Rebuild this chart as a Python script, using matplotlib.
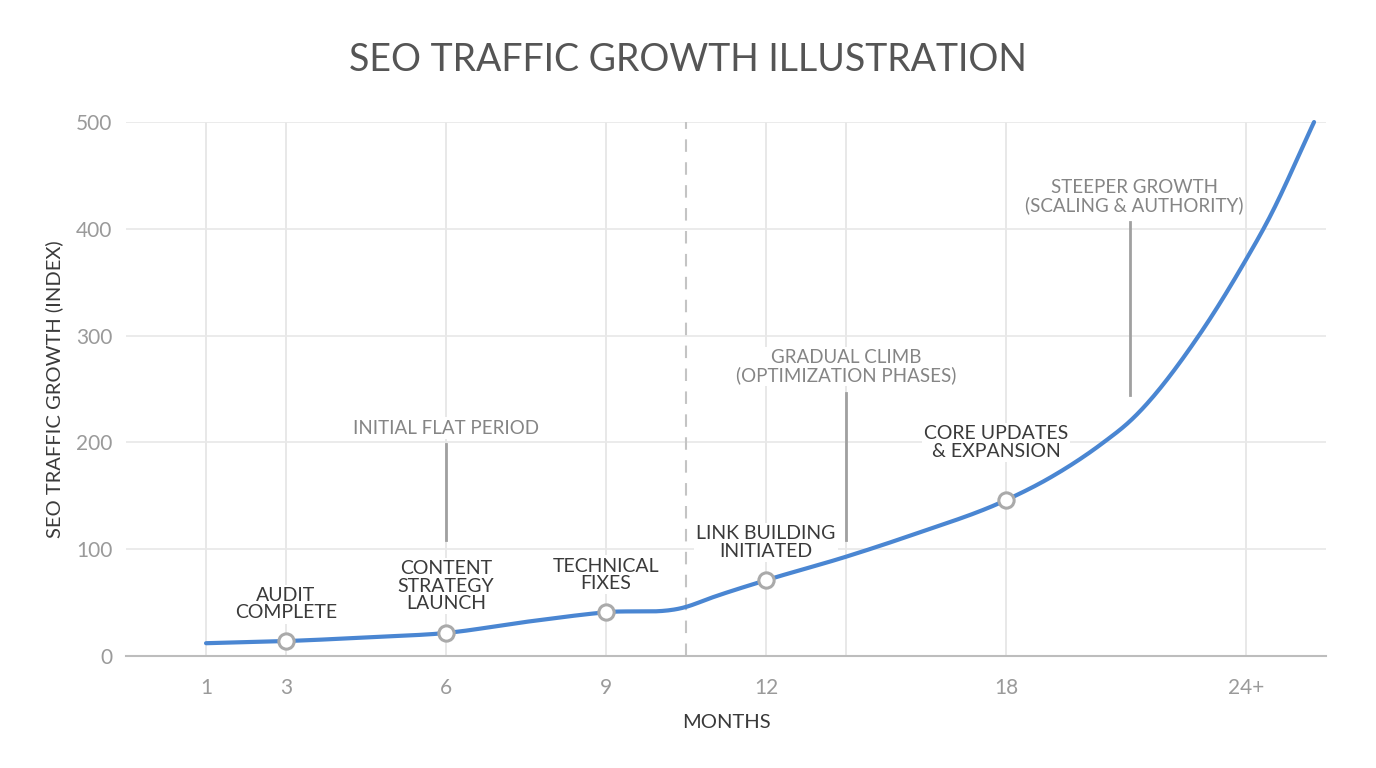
import numpy as np
import matplotlib
matplotlib.use("Agg")
import matplotlib.pyplot as plt

plt.rcParams['font.family'] = ['Lato', 'DejaVu Sans']

# data
months = [1, 3, 4.65, 6, 7.5, 9, 10.5, 11, 12, 14, 15.7, 18, 19.1, 20.4, 21.1, 22.8, 23.95, 24.55, 25.7]
traffic = [12, 14, 17.8, 21.6, 32, 41, 46, 55, 71, 93, 114, 146, 167, 199, 220, 299, 368, 408, 500]

milestone_months = [3, 6, 9, 12, 18]
milestone_labels = ["AUDIT\nCOMPLETE", "CONTENT\nSTRATEGY\nLAUNCH", "TECHNICAL\nFIXES",
                    "LINK BUILDING\nINITIATED", "CORE UPDATES\n& EXPANSION"]
milestone_label_y = [48.7, 65.5, 76, 106, 200]
milestone_label_x = [3, 6, 9, 12, 17.75]

phase_months = [6, 14, 21.1]
phase_labels = ["INITIAL FLAT PERIOD", "GRADUAL CLIMB\n(OPTIMIZATION PHASES)",
                "STEEPER GROWTH\n(SCALING & AUTHORITY)"]
phase_text_x = [6, 14, 21.2]
phase_text_y = [213.5, 271, 430]
phase_line_top = [198.5, 246, 406]
phase_line_bottom = [108.6, 108.6, 244]

tick_months = [1, 3, 6, 9, 12, 18, 24]
tick_labels = ["1", "3", "6", "9", "12", "18", "24+"]
grid_months = [1, 3, 6, 9, 12, 14, 18, 24]
divider_month = 10.5

# the month axis is stretched unevenly in the reference
M_ANCHOR = [-200, 1, 3, 12, 226]
U_ANCHOR = [-100.5, 0, 1, 7, 114]


def fwd(m):
    return np.interp(m, M_ANCHOR, U_ANCHOR)


def inv(u):
    return np.interp(u, U_ANCHOR, M_ANCHOR)


def smooth(xs, ys, n=40):
    # cubic hermite through the points, three-point slopes
    x = np.asarray(xs, float)
    y = np.asarray(ys, float)
    h = np.diff(x)
    s = np.diff(y) / h
    d = np.empty_like(y)
    d[1:-1] = (h[:-1] * s[1:] + h[1:] * s[:-1]) / (h[:-1] + h[1:])
    d[0] = s[0]
    d[-1] = s[-1]
    ox, oy = [], []
    t = np.linspace(0, 1, n, endpoint=False)
    for i in range(len(x) - 1):
        h00 = 2 * t ** 3 - 3 * t ** 2 + 1
        h10 = t ** 3 - 2 * t ** 2 + t
        h01 = -2 * t ** 3 + 3 * t ** 2
        h11 = t ** 3 - t ** 2
        ox.extend(x[i] + t * h[i])
        oy.extend(h00 * y[i] + h10 * h[i] * d[i] + h01 * y[i + 1] + h11 * h[i] * d[i + 1])
    ox.append(x[-1])
    oy.append(y[-1])
    return np.array(ox), np.array(oy)


fig = plt.figure(figsize=(13.76, 7.68), dpi=100)
ax = fig.add_axes([0.0916, 0.1458, 0.8721, 0.6953])
ax.set_xscale('function', functions=(fwd, inv))
ax.set_xlim(-1, 26)
ax.set_ylim(0, 500)

for s in ['left', 'right', 'top']:
    ax.spines[s].set_visible(False)
ax.spines['bottom'].set_color('#bdbdbd')
ax.spines['bottom'].set_linewidth(1.5)

ax.set_yticks([0, 100, 200, 300, 400, 500])
ax.set_xticks(tick_months)
ax.set_xticklabels(tick_labels)
ax.tick_params(axis='both', length=0, colors='#9a9a9a', labelsize=15)
ax.tick_params(axis='x', pad=16)
ax.tick_params(axis='y', pad=10)
ax.yaxis.grid(True, color='#e8e8e8', linewidth=1.2)
ax.set_axisbelow(True)
for gm in grid_months:
    ax.axvline(gm, color='#e4e4e4', linewidth=1.2, zorder=0)
ax.axvline(divider_month, color='#c4c4c4', linewidth=1.5, dashes=(6, 5), zorder=1)

# smooth curve drawn through the points in the stretched space
ux, uy = smooth(fwd(np.array(months)), traffic)
ax.plot(inv(ux), uy, color='#4a86d2', linewidth=3, zorder=3, solid_capstyle='round',
        clip_on=False)

mk_y = np.interp(milestone_months, months, traffic)
ax.plot(milestone_months, mk_y, 'o', markersize=11, markerfacecolor='white',
        markeredgecolor='#aaaaaa', markeredgewidth=2.2, zorder=4)

for lx, ly, lab in zip(milestone_label_x, milestone_label_y, milestone_labels):
    ax.text(lx, ly, lab, ha='center', va='center', fontsize=14, color='#3a3a3a',
            linespacing=1.05, zorder=2.5,
            bbox=dict(facecolor='white', edgecolor='none', pad=1.5))

for pm, tx, ty, top, bot, lab in zip(phase_months, phase_text_x, phase_text_y, phase_line_top,
                                     phase_line_bottom, phase_labels):
    ax.plot([pm, pm], [bot, top], color='#a0a0a0', linewidth=2, zorder=2)
    ax.text(tx, ty, lab, ha='center', va='center', fontsize=13.5, color='#858585',
            linespacing=1.05, zorder=2.5,
            bbox=dict(facecolor='white', edgecolor='none', pad=1.5))

ax.set_xlabel("MONTHS", fontsize=14.5, color='#3a3a3a', labelpad=11)
ax.set_ylabel("SEO TRAFFIC GROWTH (INDEX)", fontsize=14.5, color='#3a3a3a', labelpad=9)
fig.text(0.5, 0.922, "SEO TRAFFIC GROWTH ILLUSTRATION", ha='center', va='center',
         fontsize=27, color='#555555')

fig.savefig('out.png', dpi=100)
